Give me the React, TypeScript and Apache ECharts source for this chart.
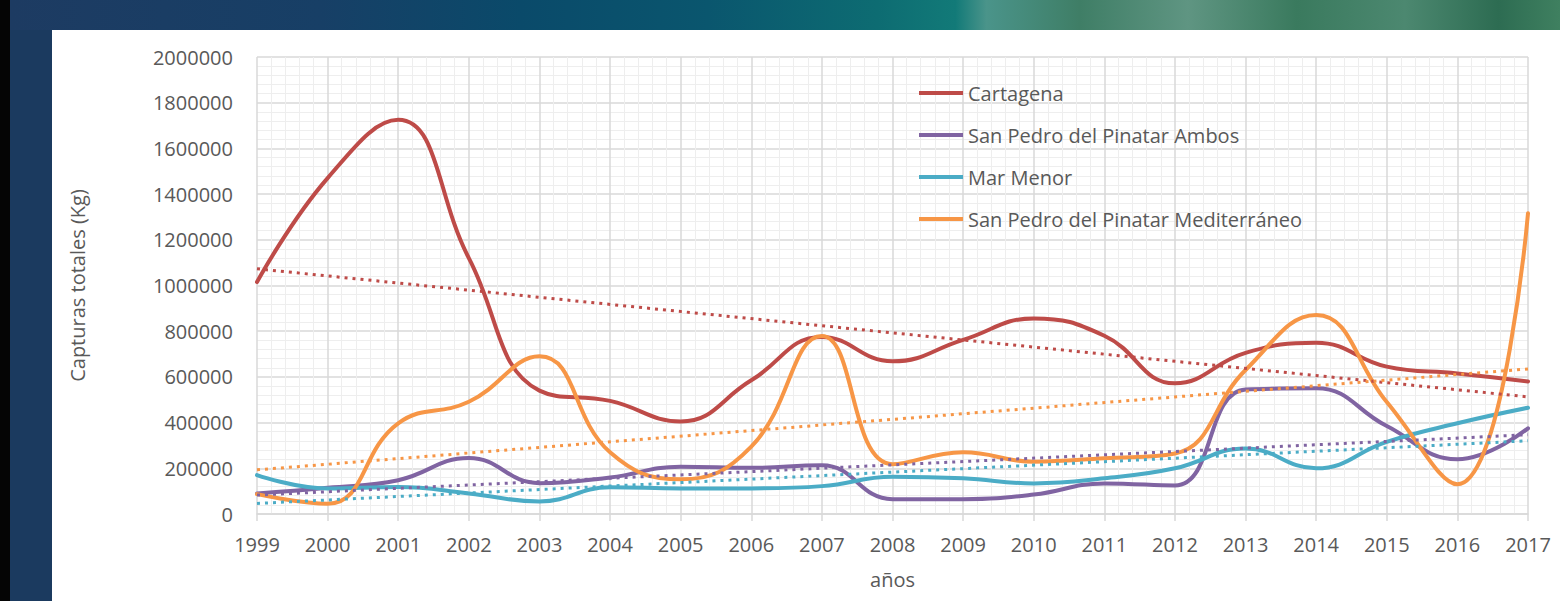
import React, { useEffect, useRef } from "react";
import * as echarts from "echarts";

const years = [1999, 2000, 2001, 2002, 2003, 2004, 2005, 2006, 2007, 2008, 2009, 2010, 2011, 2012, 2013, 2014, 2015, 2016, 2017];
const seriesNames = ["Cartagena", "San Pedro del Pinatar Ambos", "Mar Menor", "San Pedro del Pinatar Mediterráneo"];
const cartagena = [1015000, 1470000, 1725000, 1120000, 540000, 495000, 405000, 585000, 775000, 668000, 762000, 856000, 780000, 572000, 705000, 750000, 645000, 615000, 580000];
const ambos = [90000, 115000, 148000, 245000, 135000, 160000, 207000, 202000, 213000, 65000, 65000, 85000, 134000, 125000, 545000, 550000, 385000, 240000, 375000];
const marMenor = [170000, 112000, 118000, 90000, 55000, 117000, 112000, 112000, 122000, 163000, 156000, 134000, 156000, 200000, 287000, 200000, 316000, 397000, 465000];
const mediterraneo = [87000, 45000, 397000, 491000, 690000, 270000, 152000, 295000, 779000, 218000, 270000, 229000, 244000, 265000, 630000, 871000, 490000, 130000, 1316000];
const colors = ["#BE4B48", "#8064A2", "#4BACC6", "#F79646"];
const yTicks = { min: 0, max: 2000000, interval: 200000 };
const xTitle = "años";
const yTitle = "Capturas totales (Kg)";

function trend(vals: number[]): number[][] {
  const n = vals.length;
  const mx = years.reduce((a, b) => a + b, 0) / n;
  const my = vals.reduce((a, b) => a + b, 0) / n;
  let sxy = 0;
  let sxx = 0;
  for (let i = 0; i < n; i++) {
    sxy += (years[i] - mx) * (vals[i] - my);
    sxx += (years[i] - mx) * (years[i] - mx);
  }
  const b = sxy / sxx;
  const a = my - b * mx;
  return [years[0], years[n - 1]].map((x) => [x, a + b * x]);
}

export default function App() {
  const ref = useRef<HTMLDivElement>(null);
  useEffect(() => {
    if (!ref.current) return;
    const chart = echarts.init(ref.current, undefined, { renderer: "svg" });
    const all = [cartagena, ambos, marMenor, mediterraneo];
    const font = "'Open Sans', sans-serif";
    const main = all.map((vals, i) => ({
      name: seriesNames[i],
      type: "line",
      smooth: 0.45,
      showSymbol: false,
      symbol: "none",
      data: vals.map((v, j) => [years[j], v]),
      lineStyle: { color: colors[i], width: 4, cap: "round" },
      itemStyle: { color: colors[i] },
      z: 3,
    }));
    const trends = all.map((vals, i) => ({
      name: "trend" + i,
      type: "line",
      showSymbol: false,
      symbol: "none",
      data: trend(vals),
      lineStyle: { color: colors[i], width: 3, type: [3, 5] },
      z: 4,
    }));
    chart.setOption({
      animation: false,
      backgroundColor: "transparent",
      grid: { left: 257, right: 32, top: 57, bottom: 87, containLabel: false },
      legend: {
        data: seriesNames,
        orient: "vertical",
        left: 914,
        top: 78,
        itemWidth: 44,
        itemHeight: 4,
        itemGap: 22,
        icon: "rect",
        textStyle: { fontFamily: font, fontSize: 20, color: "#595959", lineHeight: 20 },
      },
      xAxis: {
        type: "value",
        min: years[0],
        max: years[years.length - 1],
        interval: 1,
        name: xTitle,
        nameLocation: "middle",
        nameGap: 55,
        nameTextStyle: { fontFamily: font, fontSize: 20, color: "#595959" },
        axisLine: { show: true, lineStyle: { color: "#d9d9d9", width: 1.5 } },
        axisTick: { show: true, length: 7, lineStyle: { color: "#d9d9d9", width: 1.5 } },
        axisLabel: { fontFamily: font, fontSize: 20, color: "#595959", margin: 20, formatter: (v: number) => String(v) },
        splitLine: { show: true, lineStyle: { color: "#d9d9d9", width: 1.5 } },
        minorTick: { show: false, splitNumber: 5 },
        minorSplitLine: { show: true, lineStyle: { color: "#eeeeee", width: 1 } },
      },
      yAxis: {
        type: "value",
        min: yTicks.min,
        max: yTicks.max,
        interval: yTicks.interval,
        name: yTitle,
        nameLocation: "middle",
        nameGap: 170,
        nameTextStyle: { fontFamily: font, fontSize: 20, color: "#595959" },
        axisLine: { show: false },
        axisTick: { show: false },
        axisLabel: { fontFamily: font, fontSize: 20, color: "#595959", margin: 24, formatter: (v: number) => String(v) },
        splitLine: { show: true, lineStyle: { color: "#d9d9d9", width: 1.5 } },
        minorTick: { show: false, splitNumber: 5 },
        minorSplitLine: { show: true, lineStyle: { color: "#eeeeee", width: 1 } },
      },
      series: [...main, ...trends],
    });
    return () => chart.dispose();
  }, []);

  return (
    <div style={{ position: "absolute", left: 0, top: 0, width: 1560, height: 601, overflow: "hidden", background: "#1b3a5f" }}>
      <div style={{ position: "absolute", left: 0, top: 0, width: 10, height: 601, background: "#050505" }} />
      <div
        style={{
          position: "absolute",
          left: 10,
          top: 0,
          width: 1550,
          height: 30,
          background:
            "linear-gradient(90deg, #1d3b62 0%, #173f66 20%, #0a4a6a 33%, #0a566e 45%, #0d6c72 56%, #127a78 61%, #4a948a 63%, #3f7e66 69%, #5f9582 76%, #3a7a5e 83%, #4c8870 90%, #2d6c52 96%, #3f8060 100%)",
        }}
      />
      <div style={{ position: "absolute", left: 52, top: 30, width: 1508, height: 571, background: "#ffffff" }} />
      <div ref={ref} style={{ position: "absolute", left: 0, top: 0, width: 1560, height: 601 }} />
    </div>
  );
}
